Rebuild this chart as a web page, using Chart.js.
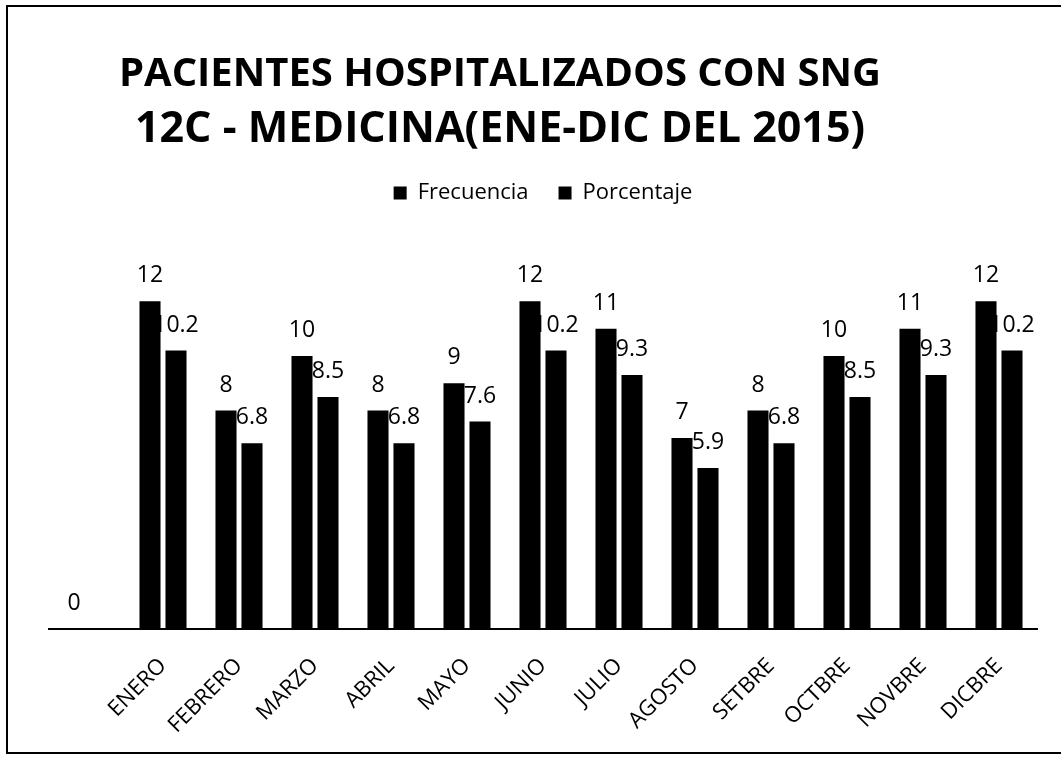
<!DOCTYPE html>
<html>
<head>
<meta charset="utf-8">
<script src="https://cdn.jsdelivr.net/npm/chart.js@4"></script>
<style>
  html, body { margin: 0; padding: 0; background: #fff; }
  #wrap { position: relative; width: 1061px; height: 761px; }
  #frame { position: absolute; left: 6px; top: 5px; width: 1060px; height: 749px;
           border-left: 2px solid #000; border-top: 2px solid #000; border-bottom: 2px solid #000;
           pointer-events: none; box-sizing: border-box; }
</style>
</head>
<body>
<div id="wrap">
  <canvas id="c" width="1061" height="761"></canvas>
  <div id="frame"></div>
</div>
<script>
const titleLines = ['PACIENTES HOSPITALIZADOS CON SNG', '12C - MEDICINA(ENE-DIC DEL 2015)'];
const categories = ['', 'ENERO', 'FEBRERO', 'MARZO', 'ABRIL', 'MAYO', 'JUNIO', 'JULIO', 'AGOSTO', 'SETBRE', 'OCTBRE', 'NOVBRE', 'DICBRE'];
const frecuencia = [0, 12, 8, 10, 8, 9, 12, 11, 7, 8, 10, 11, 12];
const porcentaje = [null, 10.2, 6.8, 8.5, 6.8, 7.6, 10.2, 9.3, 5.9, 6.8, 8.5, 9.3, 10.2];
const seriesNames = ['Frecuencia', 'Porcentaje'];

const FONT = '"Open Sans", "DejaVu Sans", sans-serif';

const valueLabels = {
  id: 'valueLabels',
  afterDatasetsDraw(chart) {
    const ctx = chart.ctx;
    ctx.save();
    ctx.fillStyle = '#000';
    ctx.font = '23px ' + FONT;
    ctx.textAlign = 'center';
    ctx.textBaseline = 'alphabetic';
    chart.data.datasets.forEach((ds, di) => {
      const meta = chart.getDatasetMeta(di);
      meta.data.forEach((el, i) => {
        const v = ds.data[i];
        if (v === null || v === undefined) return;
        ctx.fillText(String(v), el.x, el.y - 19);
      });
    });
    ctx.restore();
  }
};

const customTitle = {
  id: 'customTitle',
  afterDraw(chart) {
    const ctx = chart.ctx;
    ctx.save();
    ctx.fillStyle = '#000';
    ctx.font = 'bold 40px ' + FONT;
    ctx.textAlign = 'center';
    ctx.textBaseline = 'middle';
    ctx.fillText(titleLines[0], 500, 75);
    ctx.font = 'bold 43px ' + FONT;
    ctx.fillText(titleLines[1], 500, 130);
    ctx.restore();
  }
};

new Chart(document.getElementById('c'), {
  type: 'bar',
  data: {
    labels: categories,
    datasets: [
      { label: seriesNames[0], data: frecuencia, backgroundColor: '#000', borderWidth: 0,
        barPercentage: 0.81, categoryPercentage: 0.684 },
      { label: seriesNames[1], data: porcentaje, backgroundColor: '#000', borderWidth: 0,
        barPercentage: 0.81, categoryPercentage: 0.684 }
    ]
  },
  options: {
    responsive: false,
    animation: false,
    layout: { padding: { top: 152, left: 49, right: 24, bottom: 0 } },
    plugins: {
      title: { display: false },
      tooltip: { enabled: false },
      legend: {
        display: true,
        position: 'top',
        labels: {
          color: '#000',
          boxWidth: 13,
          boxHeight: 13,
          padding: 30,
          font: { family: FONT, size: 22 }
        }
      }
    },
    scales: {
      x: {
        grid: { display: false, drawTicks: false },
        border: { display: true, color: '#000', width: 2 },
        ticks: {
          color: '#000',
          font: { family: FONT, size: 22 },
          maxRotation: 45,
          minRotation: 45,
          padding: 24,
          autoSkip: false
        },
        afterFit(scale) { scale.height = 132; }
      },
      y: {
        display: false,
        min: 0,
        max: 15.2
      }
    }
  },
  plugins: [valueLabels, customTitle]
});
</script>
</body>
</html>
